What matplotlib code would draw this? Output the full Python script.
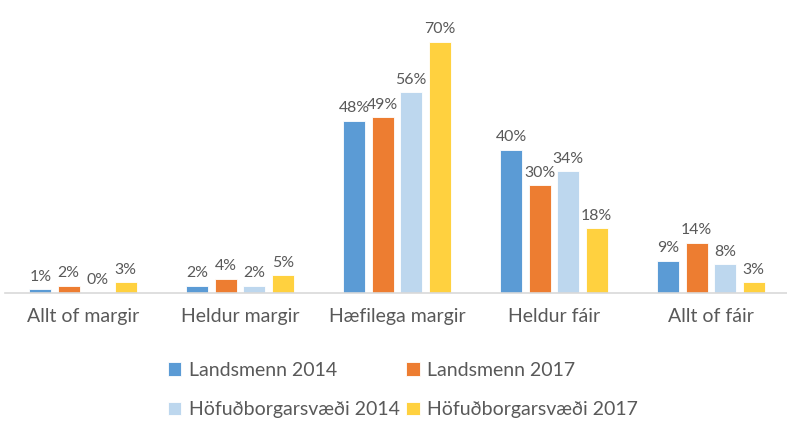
import numpy as np
import matplotlib
matplotlib.use('Agg')
import matplotlib.pyplot as plt

categories = ['Allt of margir', 'Heldur margir', 'Hæfilega margir', 'Heldur fáir', 'Allt of fáir']
series_names = ['Landsmenn 2014', 'Landsmenn 2017', 'Höfuðborgarsvæði 2014', 'Höfuðborgarsvæði 2017']
landsmenn_2014 = [1, 2, 48, 40, 9]
landsmenn_2017 = [2, 4, 49, 30, 14]
hofudborg_2014 = [0, 2, 56, 34, 8]
hofudborg_2017 = [3, 5, 70, 18, 3]
colors = ['#5B9BD5', '#ED7D31', '#BDD7EE', '#FFD13F']

plt.rcParams['font.family'] = ['Lato', 'DejaVu Sans']
text_color = '#595959'

W, H = 787, 422
fig = plt.figure(figsize=(W / 100, H / 100), dpi=100)
# plot area: baseline at y=293 px, groups 157 px apart starting at x=4.5
ax = fig.add_axes([4.5 / W, (H - 293) / H, 785 / W, 293 / H])

x = np.arange(len(categories))
step = 0.1815
width = 0.14
all_series = [landsmenn_2014, landsmenn_2017, hofudborg_2014, hofudborg_2017]
handles = []
for i, (name, vals, col) in enumerate(zip(series_names, all_series, colors)):
    bars = ax.bar(x + (i - 1.5) * step, vals, width, color=col, label=name,
                  edgecolor='white', linewidth=0.6, zorder=2)
    ax.bar_label(bars, labels=[f'{v}%' for v in vals], padding=4,
                 fontsize=11.4, color=text_color)
    handles.append(bars)

ax.set_xlim(-0.5, len(categories) - 0.5)
ax.set_ylim(0, 293 / 3.586)
ax.set_xticks(x)
ax.set_xticklabels(categories, fontsize=14, color=text_color)
ax.tick_params(axis='x', length=0, pad=11)
ax.set_yticks([])
for s in ['top', 'right', 'left']:
    ax.spines[s].set_visible(False)
ax.spines['bottom'].set_color('#D9D9D9')
ax.spines['bottom'].set_linewidth(1.2)
ax.patch.set_alpha(0)

# legend is filled row by row in the reference
order = [0, 2, 1, 3]
leg = fig.legend([handles[k] for k in order], [series_names[k] for k in order],
                 loc='center', bbox_to_anchor=(403 / W, 1 - 390 / H), ncol=2,
                 frameon=False, fontsize=14, handlelength=0.7, handleheight=0.7,
                 handletextpad=0.4, columnspacing=0.3, labelspacing=1.15)
for t in leg.get_texts():
    t.set_color(text_color)

fig.savefig('out.png', dpi=100)
